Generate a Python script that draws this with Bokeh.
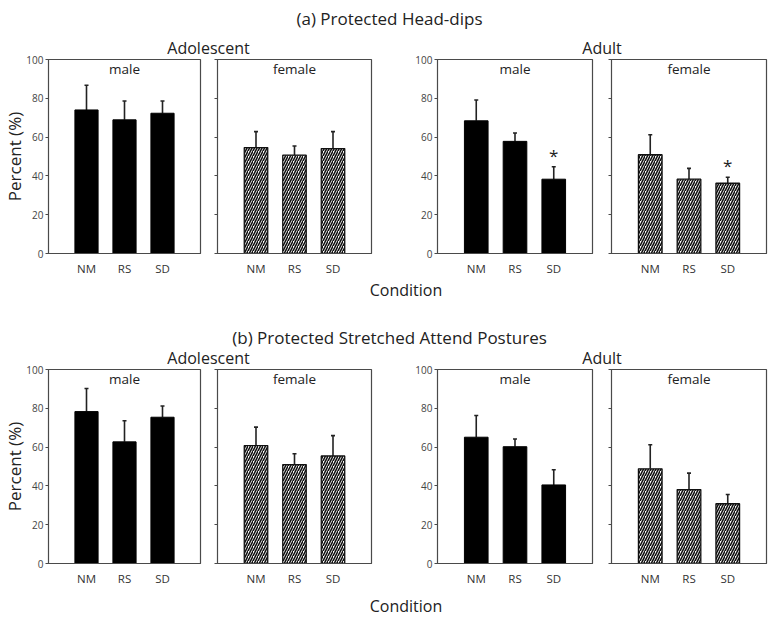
from bokeh.plotting import figure
from bokeh.models import Range1d, FixedTicker, Whisker, TeeHead, ColumnDataSource
from bokeh.layouts import row, column
from bokeh.embed import file_html
from bokeh.resources import INLINE
from bokeh.core.properties import value

# ---------------- data ----------------
conditions = ["NM", "RS", "SD"]
y_ticks = [0, 20, 40, 60, 80, 100]

# (a) Protected Head-dips  (mean %, SEM)
a_adol_male_mean = [74.0, 68.9, 72.3]
a_adol_male_err = [12.7, 9.7, 6.3]
a_adol_female_mean = [54.6, 50.7, 54.1]
a_adol_female_err = [8.2, 4.7, 8.7]
a_adult_male_mean = [68.4, 57.8, 38.3]
a_adult_male_err = [10.7, 4.3, 6.4]
a_adult_female_mean = [50.9, 38.3, 36.2]
a_adult_female_err = [10.3, 5.6, 3.1]
a_adult_male_sig = [False, False, True]
a_adult_female_sig = [False, False, True]

# (b) Protected Stretched Attend Postures
b_adol_male_mean = [78.3, 62.7, 75.4]
b_adol_male_err = [11.9, 10.9, 5.8]
b_adol_female_mean = [60.8, 51.0, 55.4]
b_adol_female_err = [9.5, 5.6, 10.5]
b_adult_male_mean = [65.1, 60.2, 40.5]
b_adult_male_err = [11.2, 4.0, 7.8]
b_adult_female_mean = [48.8, 38.1, 30.8]
b_adult_female_err = [12.4, 8.5, 4.8]
no_sig = [False, False, False]

titles = ["(a) Protected Head-dips", "(b) Protected Stretched Attend Postures"]
age_groups = ["Adolescent", "Adult"]
sexes = ["male", "female", "male", "female"]
x_title = "Condition"
y_title = "Percent (%)"

# ---------------- layout constants ----------------
FONT = "Open Sans"
TXT = "#222222"
AX = "#4a4a4a"
TOP, FRAME_H, BOTTOM = 8, 196, 23
OVERLAP = 7  # header text rows reach down into the (transparent) top border of the panels
# (border_left, border_right, frame_width) for the four panels of a row
PANEL_GEOM = [(45, 8, 155), (9, 29, 154), (37, 8, 155), (11, 4, 155)]
TOTAL_W = sum(a + b + c for a, b, c in PANEL_GEOM)

frame_left = []
acc = 0
for bl, br, fw in PANEL_GEOM:
    frame_left.append(acc + bl)
    acc += bl + br + fw
frame_right = [frame_left[i] + PANEL_GEOM[i][2] for i in range(4)]
adol_center = (frame_left[0] + frame_right[1]) / 2
adult_center = (frame_left[2] + frame_right[3]) / 2
row_center = (frame_left[0] + frame_right[3]) / 2
title_center = TOTAL_W / 2 + 4


def make_panel(means, errs, sig, sex, female, show_labels, show_ylabel, geom):
    bl, br, fw = geom
    xs = [1, 2, 3]
    p = figure(width=bl + fw + br, height=TOP + FRAME_H + BOTTOM,
               x_range=Range1d(0, 4), y_range=Range1d(0, 100),
               min_border_left=bl, min_border_right=br,
               min_border_top=TOP, min_border_bottom=BOTTOM,
               toolbar_location=None, output_backend="svg")
    p.xgrid.visible = False
    p.ygrid.visible = False
    p.outline_line_color = AX
    p.outline_line_width = 1.2
    p.background_fill_color = "white"
    p.border_fill_color = None

    # x axis
    p.xaxis.ticker = FixedTicker(ticks=xs)
    p.xaxis.major_label_overrides = {x: c for x, c in zip(xs, conditions)}
    p.xaxis.major_tick_line_color = None
    p.xaxis.major_tick_out = 0
    p.xaxis.major_tick_in = 0
    p.xaxis.minor_tick_line_color = None
    p.xaxis.major_label_standoff = 7
    p.xaxis.axis_line_color = AX
    p.xaxis.major_label_text_font = FONT
    p.xaxis.major_label_text_font_size = "11.5px"
    p.xaxis.major_label_text_color = "#333333"

    # y axis
    p.yaxis.ticker = FixedTicker(ticks=y_ticks)
    p.yaxis.minor_tick_line_color = None
    p.yaxis.major_tick_out = 3
    p.yaxis.major_tick_in = 0
    p.yaxis.major_tick_line_color = AX
    p.yaxis.axis_line_color = AX
    p.yaxis.major_label_text_font = FONT
    p.yaxis.major_label_text_font_size = "10px"
    p.yaxis.major_label_text_color = "#444444"
    p.yaxis.major_label_standoff = 2
    if not show_labels:
        p.yaxis.major_label_overrides = {t: "" for t in y_ticks}
        p.yaxis.major_label_standoff = 0
    if show_ylabel:
        p.yaxis.axis_label = y_title
        p.yaxis.axis_label_text_font = FONT
        p.yaxis.axis_label_text_font_size = "17px"
        p.yaxis.axis_label_text_font_style = "normal"
        p.yaxis.axis_label_text_color = TXT
        p.yaxis.axis_label_standoff = -3

    upper = [m + e for m, e in zip(means, errs)]
    src = ColumnDataSource(dict(x=xs, mean=means, upper=upper))
    if female:
        p.vbar(x="x", top="mean", width=0.61, source=src, fill_color="white",
               line_color="#111111", line_width=1.3,
               hatch_pattern="/", hatch_color="#111111", hatch_scale=5,
               hatch_weight=1.6)
    else:
        p.vbar(x="x", top="mean", width=0.61, source=src, fill_color="black",
               line_color="black", line_width=1)

    w = Whisker(source=src, base="x", upper="upper", lower="mean",
                dimension="height", line_color="#222222", line_width=1.6,
                upper_head=TeeHead(size=4, line_color="#222222", line_width=1.6),
                lower_head=None)
    p.add_layout(w)

    sx = [x for x, s in zip(xs, sig) if s]
    sy = [u for u, s in zip(upper, sig) if s]
    if sx:
        ssrc = ColumnDataSource(dict(x=sx, y=sy, t=["*"] * len(sx)))
        p.text(x="x", y="y", text="t", source=ssrc, text_align="center",
               text_baseline="bottom", text_font=value(FONT),
               text_font_size="17px", text_color=TXT)

    lsrc = ColumnDataSource(dict(x=[2], y=[100], t=[sex]))
    p.text(x="x", y="y", text="t", source=lsrc, text_align="center",
           text_baseline="top", text_font=value(FONT),
           text_font_size="13.5px", text_color=TXT)
    return p


def text_fig(height, items, overlap=0):
    p = figure(width=TOTAL_W, height=height,
               x_range=Range1d(0, TOTAL_W), y_range=Range1d(height, 0),
               x_axis_type=None, y_axis_type=None, min_border=0,
               toolbar_location=None, output_backend="svg")
    p.outline_line_color = None
    p.xgrid.visible = False
    p.ygrid.visible = False
    src = ColumnDataSource(dict(
        x=[it[1] for it in items], y=[it[2] for it in items],
        t=[it[0] for it in items], s=[it[3] for it in items]))
    p.text(x="x", y="y", text="t", text_font_size="s", source=src,
           text_align="center", text_baseline="middle",
           text_font=value(FONT), text_color=TXT)
    if overlap:
        p.margin = (0, 0, -overlap, 0)
    return p


def panel_row(data):
    figs = []
    for i, (means, errs, sig) in enumerate(data):
        figs.append(make_panel(means, errs, sig, sexes[i], i % 2 == 1,
                               i % 2 == 0, i == 0, PANEL_GEOM[i]))
    return row(*figs, spacing=0)


row_a = panel_row([
    (a_adol_male_mean, a_adol_male_err, no_sig),
    (a_adol_female_mean, a_adol_female_err, no_sig),
    (a_adult_male_mean, a_adult_male_err, a_adult_male_sig),
    (a_adult_female_mean, a_adult_female_err, a_adult_female_sig),
])
row_b = panel_row([
    (b_adol_male_mean, b_adol_male_err, no_sig),
    (b_adol_female_mean, b_adol_female_err, no_sig),
    (b_adult_male_mean, b_adult_male_err, no_sig),
    (b_adult_female_mean, b_adult_female_err, no_sig),
])

header_a = text_fig(58, [
    (titles[0], title_center, 18, "17px"),
    (age_groups[0], adol_center, 47, "16px"),
    (age_groups[1], adult_center, 47, "16px"),
], overlap=OVERLAP)
mid = text_fig(90, [
    (x_title, row_center, 11, "16px"),
    (titles[1], title_center, 59, "17px"),
    (age_groups[0], adol_center, 79, "16px"),
    (age_groups[1], adult_center, 79, "16px"),
], overlap=OVERLAP)
footer = text_fig(28, [
    (x_title, row_center, 17, "16px"),
])

layout = column(header_a, row_a, mid, row_b, footer, spacing=0)

open("out.html", "w").write(file_html(layout, INLINE))
